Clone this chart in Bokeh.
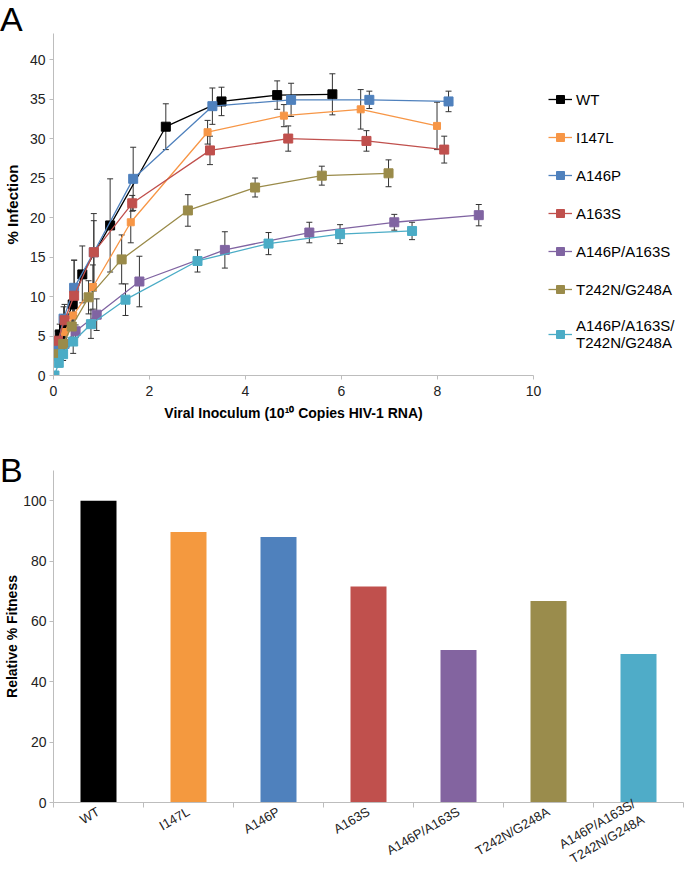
import math
from bokeh.plotting import figure
from bokeh.models import (ColumnDataSource, Whisker, TeeHead, Legend, LegendItem,
                          FixedTicker, Range1d, Div)
from bokeh.layouts import column
from bokeh.embed import file_html
from bokeh.resources import INLINE

FONT = "Liberation Sans"

# ---------------- Panel A data ----------------
series_names = ["WT", "I147L", "A146P", "A163S", "A146P/A163S", "T242N/G248A",
                "A146P/A163S/\nT242N/G248A"]
series_colors = ["#000000", "#F79646", "#4F81BD", "#C0504D", "#8064A2", "#9A8B4A", "#4BACC6"]
marker_sizes = [9, 7, 9, 9, 9, 9, 9]

wt_x = [0.05, 0.13, 0.22, 0.40, 0.60, 1.18, 2.34, 3.50, 4.66, 5.81]
wt_y = [3.0, 5.2, 6.2, 9.0, 12.8, 19.0, 31.5, 34.7, 35.5, 35.6]
wt_err = [0.8, 1.3, 1.5, 2.5, 3.6, 5.9, 2.9, 1.8, 1.8, 2.6]

i147l_x = [0.10, 0.23, 0.41, 0.82, 1.61, 3.21, 4.80, 6.40, 7.99]
i147l_y = [4.0, 5.5, 7.6, 11.2, 19.4, 30.8, 32.9, 33.7, 31.6]
i147l_err = [1.0, 1.2, 1.5, 2.8, 2.6, 1.5, 1.4, 2.5, 3.0]

a146p_x = [0.08, 0.21, 0.43, 0.84, 1.66, 3.31, 4.95, 6.58, 8.23]
a146p_y = [3.6, 7.2, 11.1, 15.6, 24.9, 34.1, 34.9, 34.9, 34.7]
a146p_err = [1.0, 1.5, 3.5, 4.0, 4.0, 2.3, 2.1, 1.1, 1.3]

a163s_x = [0.09, 0.23, 0.43, 0.84, 1.64, 3.26, 4.89, 6.52, 8.14]
a163s_y = [4.4, 7.0, 10.1, 15.6, 21.8, 28.5, 30.0, 29.7, 28.6]
a163s_err = [1.2, 2.0, 4.5, 4.9, 1.0, 1.8, 1.6, 1.3, 1.7]

dbl_x = [0.10, 0.23, 0.46, 0.90, 1.79, 3.57, 5.33, 7.10, 8.86]
dbl_y = [2.5, 4.0, 5.6, 7.7, 11.9, 15.9, 18.1, 19.4, 20.3]
dbl_err = [0.6, 0.8, 0.8, 2.0, 3.2, 2.3, 1.3, 1.0, 1.35]

tg_x = [0.10, 0.20, 0.38, 0.73, 1.42, 2.80, 4.20, 5.59, 6.98]
tg_y = [2.7, 4.0, 6.2, 9.9, 14.7, 20.9, 23.8, 25.3, 25.6]
tg_err = [0.8, 1.0, 1.5, 2.1, 3.1, 2.0, 1.2, 1.2, 1.7]

quad_x = [0.02, 0.11, 0.20, 0.41, 0.78, 1.50, 3.00, 4.48, 5.97, 7.47]
quad_y = [0.0, 1.6, 2.7, 4.3, 6.5, 9.6, 14.5, 16.7, 17.9, 18.3]
quad_err = [0.0, 0.5, 0.8, 1.5, 1.8, 2.0, 1.4, 1.4, 1.2, 1.1]

series_x = [wt_x, i147l_x, a146p_x, a163s_x, dbl_x, tg_x, quad_x]
series_y = [wt_y, i147l_y, a146p_y, a163s_y, dbl_y, tg_y, quad_y]
series_err = [wt_err, i147l_err, a146p_err, a163s_err, dbl_err, tg_err, quad_err]

x_ticks_a = [0, 2, 4, 6, 8, 10]
y_ticks_a = [0, 5, 10, 15, 20, 25, 30, 35, 40]

# ---------------- Panel B data ----------------
bar_labels = ["WT", "I147L", "A146P", "A163S", "A146P/A163S", "T242N/G248A",
              "A146P/A163S/\nT242N/G248A"]
bar_values = [100.0, 89.6, 88.0, 71.6, 50.5, 66.8, 49.2]
bar_colors = ["#000000", "#F4993F", "#4F81BD", "#C0504D", "#8364A0", "#9A8C4C", "#4FACC8"]
y_ticks_b = [0, 20, 40, 60, 80, 100]

AXIS_GREY = "#BDBDBD"
TICK_TXT = "#222222"


def panel_letter(letter, h, shift):
    html = ('<div style="font-family:\'Liberation Sans\';font-size:34px;'
            'line-height:38px;color:#000;margin:0;padding:0;position:relative;'
            'top:%dpx;">%s</div>' % (shift, letter))
    return Div(text=html, width=40, height=h, margin=(0, 0, 0, 0),
               styles={"overflow": "visible"})


# ---------------- Figure A ----------------
FW_A, FH_A = 480, 342
p1 = figure(frame_width=FW_A, frame_height=FH_A, x_range=Range1d(0, 10), y_range=Range1d(0, 43.3),
            output_backend="svg", toolbar_location=None,
            min_border_left=45, min_border_right=139, min_border_top=0, min_border_bottom=62)
p1.outline_line_color = None
p1.border_fill_alpha = 0
p1.xgrid.visible = False
p1.ygrid.visible = False

for ax in (p1.xaxis[0], p1.yaxis[0]):
    ax.axis_line_color = AXIS_GREY
    ax.major_tick_line_color = AXIS_GREY
    ax.minor_tick_line_color = None
    ax.major_tick_in = 0
    ax.major_tick_out = 4
    ax.major_label_text_font = FONT
    ax.major_label_text_font_size = "14px"
    ax.major_label_text_color = TICK_TXT
    ax.axis_label_text_font = FONT
    ax.axis_label_text_font_style = "bold"
    ax.axis_label_text_color = "#000000"
p1.xaxis.ticker = FixedTicker(ticks=x_ticks_a)
p1.yaxis.ticker = FixedTicker(ticks=y_ticks_a)
p1.xaxis.axis_label = "Viral Inoculum (10¹⁰ Copies HIV-1 RNA)"
p1.xaxis.axis_label_text_font_size = "14px"
p1.xaxis.major_label_standoff = 6
p1.xaxis.axis_label_standoff = 6
p1.yaxis.axis_label = "% Infection"
p1.yaxis.axis_label_text_font_size = "15px"
p1.yaxis.major_label_standoff = 4
p1.yaxis.axis_label_standoff = 6

items = []
for name, col, ms, xs, ys, es in zip(series_names, series_colors, marker_sizes,
                                      series_x, series_y, series_err):
    src = ColumnDataSource(dict(x=xs, y=ys,
                                lower=[y - e for y, e in zip(ys, es)],
                                upper=[y + e for y, e in zip(ys, es)]))
    w = Whisker(source=src, base="x", lower="lower", upper="upper", dimension="height",
                line_color="#333333", line_width=1,
                upper_head=TeeHead(size=6, line_color="#333333", line_width=1),
                lower_head=TeeHead(size=6, line_color="#333333", line_width=1))
    p1.add_layout(w)
    lr = p1.line("x", "y", source=src, line_color=col, line_width=1.3)
    sr = p1.scatter("x", "y", source=src, marker="square", size=ms,
                    fill_color=col, line_color=col)
    items.append(LegendItem(label=name, renderers=[lr, sr]))

legend = Legend(items=items, location=(15, 24), label_text_font=FONT,
                label_text_font_size="15px", label_text_color="#000000",
                glyph_width=24, glyph_height=20, label_height=20, spacing=18,
                padding=0, margin=0, border_line_color=None,
                background_fill_alpha=0, label_standoff=4)
p1.add_layout(legend, "right")

# ---------------- Figure B ----------------
FW_B, FH_B = 630, 332
bar_pos = list(range(1, len(bar_labels) + 1))
p2 = figure(frame_width=FW_B, frame_height=FH_B, x_range=Range1d(0.5, len(bar_labels) + 0.5),
            y_range=Range1d(0, 110), output_backend="svg", toolbar_location=None,
            min_border_left=39, min_border_right=2, min_border_top=0, min_border_bottom=65)
p2.outline_line_color = None
p2.border_fill_alpha = 0
p2.xgrid.visible = False
p2.ygrid.visible = False

p2.vbar(x=bar_pos, top=bar_values, width=0.4, fill_color=bar_colors, line_color=None)

for ax in (p2.xaxis[0], p2.yaxis[0]):
    ax.axis_line_color = AXIS_GREY
    ax.major_tick_line_color = AXIS_GREY
    ax.minor_tick_line_color = AXIS_GREY
    ax.major_label_text_font = FONT
    ax.major_label_text_color = TICK_TXT
    ax.axis_label_text_font = FONT
    ax.axis_label_text_font_style = "bold"
    ax.axis_label_text_color = "#000000"

p2.xaxis.ticker = FixedTicker(ticks=bar_pos, minor_ticks=[p - 0.5 for p in bar_pos] + [bar_pos[-1] + 0.5])
p2.xaxis.major_label_overrides = {p: lab for p, lab in zip(bar_pos, bar_labels)}
p2.xaxis.major_tick_in = 0
p2.xaxis.major_tick_out = 0
p2.xaxis.minor_tick_in = 0
p2.xaxis.minor_tick_out = 5
p2.xaxis.major_label_orientation = math.pi / 6
p2.xaxis.major_label_text_font_size = "13px"
p2.xaxis.major_label_standoff = 3

p2.yaxis.ticker = FixedTicker(ticks=y_ticks_b)
p2.yaxis.minor_tick_line_color = None
p2.yaxis.major_tick_in = 0
p2.yaxis.major_tick_out = 4
p2.yaxis.major_label_text_font_size = "14px"
p2.yaxis.major_label_standoff = 3
p2.yaxis.axis_label = "Relative % Fitness"
p2.yaxis.axis_label_text_font_size = "14px"
p2.yaxis.axis_label_standoff = 0

layout = column(panel_letter("A", 33, 0), p1, panel_letter("B", 33, 14), p2, spacing=0)
open("out.html", "w").write(file_html(layout, INLINE))
